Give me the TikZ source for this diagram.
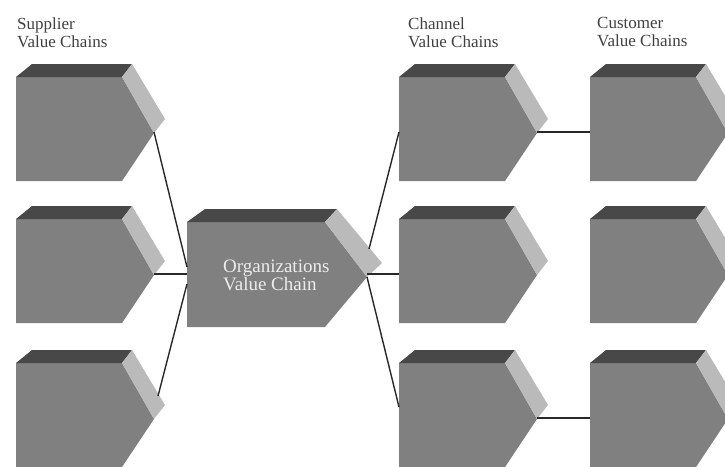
\documentclass[tikz,border=0pt]{standalone}
\usepackage{fontspec}
\setmainfont{Liberation Serif}

\definecolor{frontgray}{RGB}{128,128,128}
\definecolor{topgray}{RGB}{72,72,72}
\definecolor{sidegray}{RGB}{186,186,186}
\definecolor{linkgray}{RGB}{40,40,40}
\definecolor{labelgray}{RGB}{64,64,64}
\definecolor{innertext}{RGB}{236,236,236}

\tikzset{
  link/.style={draw=linkgray, line width=1.4pt},
  grouplabel/.style={anchor=north west, inner sep=0pt, align=left,
    text=labelgray, font=\fontsize{17}{18}\selectfont},
  % small value-chain block: front pentagon, top face, side face
  chain/.pic={
    \fill[frontgray] (0,0) -- (106,0) -- (138,56) -- (106,104) -- (0,104) -- cycle;
    \fill[topgray] (0,0) -- (16,-13) -- (116,-13) -- (106,0) -- cycle;
    \fill[sidegray] (106,0) -- (116,-13) -- (149,42) -- (138,56) -- cycle;
    \coordinate (-tip) at (138,55);
    \coordinate (-side) at (142,33);
    \coordinate (-w) at (0,55);
    \coordinate (-wup) at (0,44);
  },
  % the larger central block
  bigchain/.pic={
    \fill[frontgray] (0,0) -- (138,0) -- (180,55) -- (138,105) -- (0,105) -- cycle;
    \fill[topgray] (0,0) -- (18,-13) -- (150,-13) -- (138,0) -- cycle;
    \fill[sidegray] (138,0) -- (150,-13) -- (195,41) -- (180,55) -- cycle;
    \coordinate (-tip) at (180,55);
    \coordinate (-mid) at (180,52);
    \coordinate (-side) at (182,27);
    \coordinate (-wa) at (0,45);
    \coordinate (-wb) at (0,52);
    \coordinate (-wc) at (0,62);
  },
}

\begin{document}
\begin{tikzpicture}[x=1pt, y=-1pt]
  \useasboundingbox (0,0) rectangle (725,466);
  \clip (0,0) rectangle (725,466);

  % column headings
  \node[grouplabel] (suplabel) at (17,17.5) {Supplier\\Value Chains};
  \node[grouplabel] (chlabel) at (408,17.5) {Channel\\Value Chains};
  \node[grouplabel] (culabel) at (597,17.5) {Customer\\Value Chains};

  % supplier column
  \pic (s1) at (16,77) {chain};
  \pic (s2) at (16,219) {chain};
  \pic (s3) at (16,363) {chain};

  % the organization
  \pic (org) at (187,222) {bigchain};
  \node[anchor=north west, inner sep=0pt, align=left, text=innertext,
        font=\fontsize{19}{18}\selectfont] (orgtext) at (223,260)
        {Organizations\\Value Chain};

  % channel column
  \pic (ch1) at (399,77) {chain};
  \pic (ch2) at (399,219) {chain};
  \pic (ch3) at (399,363) {chain};

  % customer column
  \pic (cu1) at (590,77) {chain};
  \pic (cu2) at (590,219) {chain};
  \pic (cu3) at (590,363) {chain};

  % connections
  \draw[link] (s1-tip) -- (org-wa);
  \draw[link] (s2-tip) -- (org-wb);
  \draw[link] (s3-side) -- (org-wc);
  \draw[link] (org-side) -- (ch1-w);
  \draw[link] (org-mid) -- (ch2-w);
  \draw[link] (org-tip) -- (ch3-wup);
  \draw[link] (ch1-tip) -- (cu1-w);
  \draw[link] (ch3-tip) -- (cu3-w);
\end{tikzpicture}
\end{document}
